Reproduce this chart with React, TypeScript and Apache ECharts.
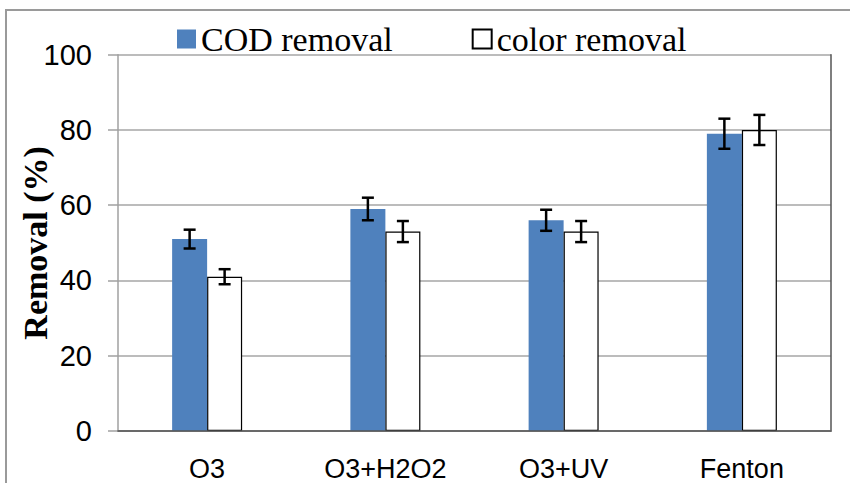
import React, { useEffect, useRef } from "react";
import * as echarts from "echarts";

const categories = ["O3", "O3+H2O2", "O3+UV", "Fenton"];
const codRemoval = [51, 59, 56, 79];
const codError = [2.5, 3, 2.8, 4];
const colorRemoval = [41, 53, 53, 80];
const colorError = [2, 2.8, 2.8, 4];
const seriesNames = ["COD removal", "color removal"];

const BAR_W = 35;

function errorBarSeries(values: number[], errs: number[], sign: number) {
  return {
    type: "custom",
    silent: true,
    z: 10,
    data: values.map((v, i) => [i, v, errs[i]]),
    renderItem: (params: any, api: any) => {
      const x = api.value(0);
      const v = api.value(1);
      const e = api.value(2);
      const top = api.coord([x, v + e]);
      const bot = api.coord([x, v - e]);
      const cx = top[0] + sign * (BAR_W / 2);
      const cap = 6;
      const style = { stroke: "#000", lineWidth: 2.5 };
      return {
        type: "group",
        children: [
          { type: "line", shape: { x1: cx, y1: top[1], x2: cx, y2: bot[1] }, style },
          { type: "line", shape: { x1: cx - cap, y1: top[1], x2: cx + cap, y2: top[1] }, style },
          { type: "line", shape: { x1: cx - cap, y1: bot[1], x2: cx + cap, y2: bot[1] }, style },
        ],
      };
    },
  };
}

export default function App() {
  const ref = useRef<HTMLDivElement>(null);
  useEffect(() => {
    if (!ref.current) return;
    const chart = echarts.init(ref.current, null, { renderer: "svg" });
    chart.setOption({
      animation: false,
      backgroundColor: "#fff",
      graphic: [
        {
          type: "rect",
          shape: { x: 6, y: 10, width: 900, height: 500 },
          style: { fill: "none", stroke: "#9a9a9a", lineWidth: 2 },
          z: -1,
        },
      ],
      legend: {
        left: 172,
        top: 17,
        itemWidth: 19,
        itemHeight: 19,
        itemGap: 79,
        icon: "rect",
        data: seriesNames,
        textStyle: {
          fontFamily: "Liberation Serif",
          fontSize: 34,
          color: "#000",
        },
      },
      grid: {
        left: 118,
        right: 19,
        top: 54.7,
        bottom: 52,
        outerBoundsMode: "none",
        containLabel: false,
      },
      xAxis: [
        {
          type: "category",
          data: categories,
          axisLine: { show: true, lineStyle: { color: "#a0a0a0", width: 1.5 } },
          axisTick: { show: false },
          axisLabel: {
            margin: 24,
            fontFamily: "Liberation Sans",
            fontSize: 27,
            color: "#000",
          },
        },
        {
          type: "category",
          position: "top",
          data: categories,
          axisLine: { show: true, lineStyle: { color: "#555", width: 1.5 } },
          axisTick: { show: false },
          axisLabel: { show: false },
          z: 5,
        },
      ],
      yAxis: [
        {
          type: "value",
          min: 0,
          max: 100,
          interval: 20,
          name: "Removal (%)",
          nameLocation: "middle",
          nameGap: 66,
          nameMoveOverlap: false,
          nameTextStyle: {
            fontFamily: "Liberation Serif",
            fontWeight: "bold",
            fontSize: 34,
            color: "#000",
          },
          axisLine: { show: true, lineStyle: { color: "#a0a0a0", width: 1.5 } },
          axisTick: { show: true, length: 10, lineStyle: { color: "#a0a0a0", width: 1.5 } },
          axisLabel: {
            margin: 26,
            fontFamily: "Liberation Sans",
            fontSize: 29,
            color: "#000",
          },
          splitLine: { show: true, lineStyle: { color: "#a6a6a6", width: 1.5 } },
        },
        {
          type: "value",
          position: "right",
          min: 0,
          max: 100,
          interval: 20,
          axisLine: { show: true, lineStyle: { color: "#555", width: 1.5 } },
          axisTick: { show: false },
          axisLabel: { show: false },
          splitLine: { show: false },
        },
      ],
      series: [
        {
          name: seriesNames[0],
          type: "bar",
          data: codRemoval,
          barWidth: BAR_W,
          barGap: "0%",
          itemStyle: { color: "#4f81bd" },
        },
        {
          name: seriesNames[1],
          type: "bar",
          data: colorRemoval,
          barWidth: BAR_W,
          barGap: "0%",
          itemStyle: { color: "#ffffff", borderColor: "#000", borderWidth: 1.2 },
        },
        errorBarSeries(codRemoval, codError, -1),
        errorBarSeries(colorRemoval, colorError, 1),
      ],
    });
    return () => chart.dispose();
  }, []);
  return (
    <div
      ref={ref}
      style={{ position: "fixed", left: 0, top: 0, width: 850, height: 483 }}
    />
  );
}
